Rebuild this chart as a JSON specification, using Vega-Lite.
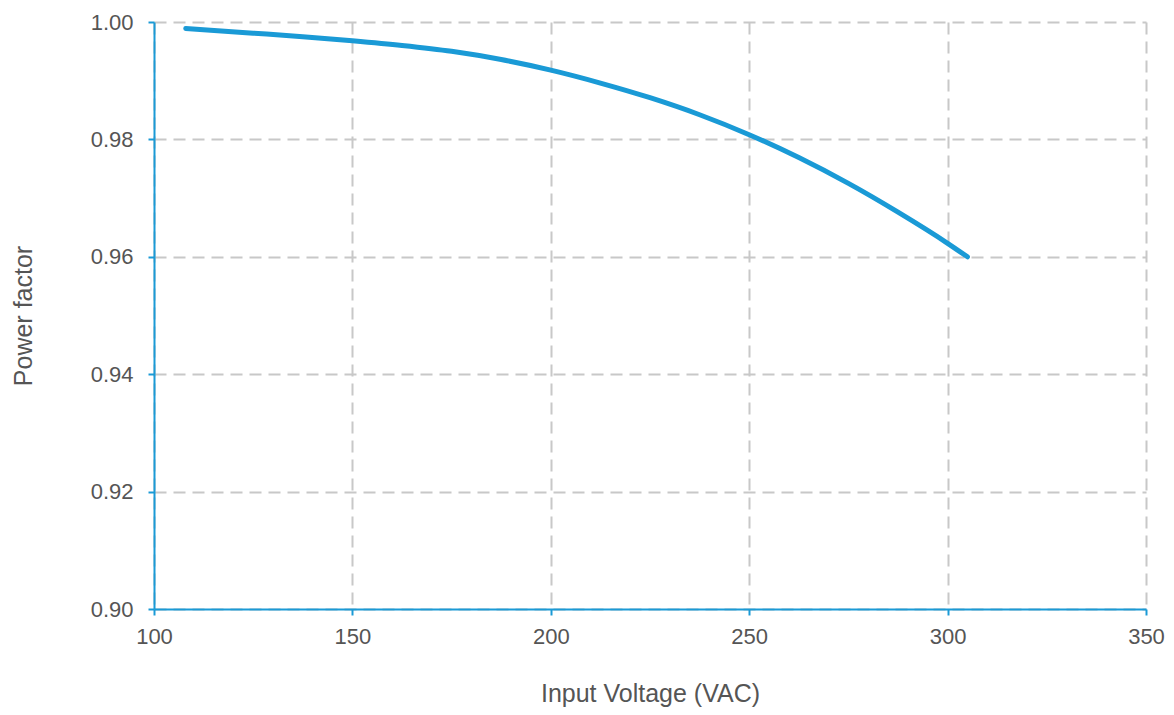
{
  "$schema": "https://vega.github.io/schema/vega-lite/v6.json",
  "width": 992,
  "height": 587,
  "autosize": {"type": "none"},
  "padding": {"left": 154, "top": 22, "right": 28, "bottom": 106},
  "background": "white",
  "config": {
    "view": {"stroke": null},
    "font": "Liberation Sans",
    "axis": {
      "labelFont": "Liberation Sans",
      "titleFont": "Liberation Sans",
      "labelColor": "#555555",
      "titleColor": "#555555",
      "labelFontSize": 22,
      "titleFontSize": 25,
      "titleFontWeight": "normal",
      "domainColor": "#1a9ad6",
      "domainWidth": 2,
      "tickColor": "#1a9ad6",
      "tickWidth": 2,
      "tickSize": 6,
      "gridColor": "#c8c8c8",
      "gridWidth": 2,
      "gridDash": [12, 7]
    }
  },
  "data": {
    "values": [
      {"v": 108, "pf": 0.9989},
      {"v": 125, "pf": 0.9981},
      {"v": 137.5, "pf": 0.9975},
      {"v": 150, "pf": 0.9968},
      {"v": 162.5, "pf": 0.996},
      {"v": 175, "pf": 0.995},
      {"v": 187.5, "pf": 0.9936},
      {"v": 200, "pf": 0.9918},
      {"v": 212.5, "pf": 0.9896},
      {"v": 225, "pf": 0.9871},
      {"v": 237.5, "pf": 0.9842},
      {"v": 250, "pf": 0.9808},
      {"v": 262.5, "pf": 0.9769},
      {"v": 275, "pf": 0.9725},
      {"v": 287.5, "pf": 0.9676},
      {"v": 300, "pf": 0.9623},
      {"v": 305, "pf": 0.96}
    ]
  },
  "mark": {"type": "line", "color": "#1a9ad6", "strokeWidth": 5, "strokeCap": "round", "strokeJoin": "round", "interpolate": "monotone"},
  "encoding": {
    "x": {
      "field": "v",
      "type": "quantitative",
      "scale": {"domain": [100, 350], "nice": false},
      "axis": {
        "title": "Input Voltage (VAC)",
        "values": [100, 150, 200, 250, 300, 350],
        "labelPadding": 11,
        "titlePadding": 34,
        "labelFlush": false
      }
    },
    "y": {
      "field": "pf",
      "type": "quantitative",
      "scale": {"domain": [0.9, 1.0], "nice": false, "zero": false},
      "axis": {
        "title": "Power factor",
        "values": [0.9, 0.92, 0.94, 0.96, 0.98, 1.0],
        "format": ".2f",
        "labelPadding": 15,
        "titlePadding": 54
      }
    }
  }
}
